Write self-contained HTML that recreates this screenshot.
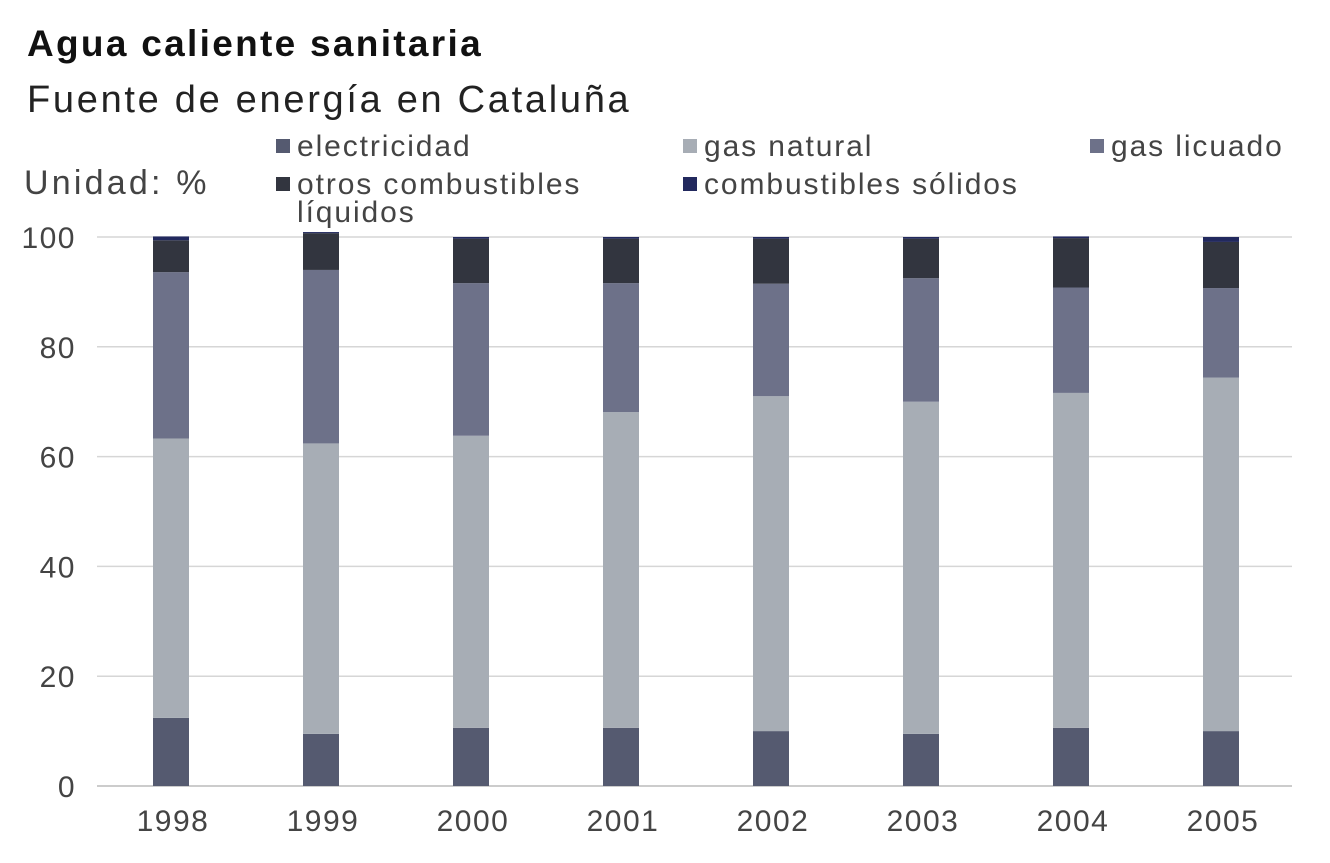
<!DOCTYPE html>
<html><head><meta charset="utf-8"><style>
body{margin:0;background:#fff;width:1330px;height:858px;overflow:hidden;font-family:"Liberation Sans",sans-serif;color:#333}
</style></head><body>
<svg width="1330" height="858" font-family="Liberation Sans, sans-serif">
<text x="27" y="56" font-size="37" font-weight="bold" fill="#111" letter-spacing="2.3">Agua caliente sanitaria</text>
<text x="27" y="112" font-size="38" fill="#222" letter-spacing="2.7">Fuente de energía en Cataluña</text>
<text x="24" y="194" font-size="34" fill="#444" letter-spacing="3.2">Unidad: %</text>
<g id="legend"></g>
<g id="grid"></g><g id="bars"></g><g id="axes"></g>
</svg>
<script>
const years=["1998","1999","2000","2001","2002","2003","2004","2005"];
const electricidad=[12.4,9.5,10.6,10.6,10.0,9.5,10.6,10.0];
const gasNatural=[50.9,52.9,53.2,57.5,61.0,60.5,61.0,64.4];
const gasLicuado=[30.3,31.6,27.8,23.5,20.5,22.5,19.2,16.3];
const otros=[5.8,6.7,8.1,8.1,8.2,7.2,9.0,8.4];
const solidos=[0.7,0.2,0.3,0.3,0.3,0.3,0.3,0.9];
const yTicks=[0,20,40,60,80,100];
const seriesNames=["electricidad","gas natural","gas licuado","otros combustibles","combustibles sólidos"];
const colors=["#555a70","#a7adb5","#6d7189","#32353f","#22295e"];
const NS="http://www.w3.org/2000/svg";
const y0=786,y100=237,x0=97,x1=1292;
const yS=v=>y0-(y0-y100)*v/100;
const xS=i=>171+i*150;
function mk(t,a,p){const e=document.createElementNS(NS,t);for(const k in a)e.setAttribute(k,a[k]);p.appendChild(e);return e;}
const grid=document.getElementById('grid'),bars=document.getElementById('bars'),axes=document.getElementById('axes'),leg=document.getElementById('legend');
yTicks.forEach(t=>{
 const l=mk('line',{x1:x0,x2:x1,y1:yS(t),y2:yS(t),stroke:t===0?'#bbb':'#d6d6d6','stroke-width':1.5},grid);
 
 
 const tx=mk('text',{x:76,y:yS(t)+11,'font-size':30,'letter-spacing':1.5,'text-anchor':'end',fill:'#444'},axes);
 tx.textContent=t;
 
 
});
const series=[electricidad,gasNatural,gasLicuado,otros,solidos];
years.forEach((yr,i)=>{
 let acc=0;
 series.forEach((s,k)=>{
  const r=mk('rect',{x:xS(i)-18,width:36,y:yS(acc+s[i]),height:yS(acc)-yS(acc+s[i]),fill:colors[k]},bars);
  
  
  acc+=s[i];
 });
 const tx=mk('text',{x:xS(i)+2,y:831,'font-size':30,'letter-spacing':1.5,'text-anchor':'middle',fill:'#444'},axes);
 tx.textContent=yr;
 
 
});
const lpos=[[276,146],[683,146],[1090,146],[276,184],[683,184]];
seriesNames.forEach((n,k)=>{
 const g=mk('g',{},leg);
 
 
 mk('rect',{x:lpos[k][0],y:lpos[k][1]-7,width:14,height:14,fill:colors[k]},g);
 const t=mk('text',{x:lpos[k][0]+21,y:lpos[k][1]+10,'font-size':30,'letter-spacing':1.9,fill:'#444'},g);
 t.textContent=n;
 if(k===3){const t2=mk('text',{x:lpos[k][0]+21,y:lpos[k][1]+38,'font-size':30,'letter-spacing':1.9,fill:'#444'},g);t2.textContent="líquidos";}
});
</script>
</body></html>
